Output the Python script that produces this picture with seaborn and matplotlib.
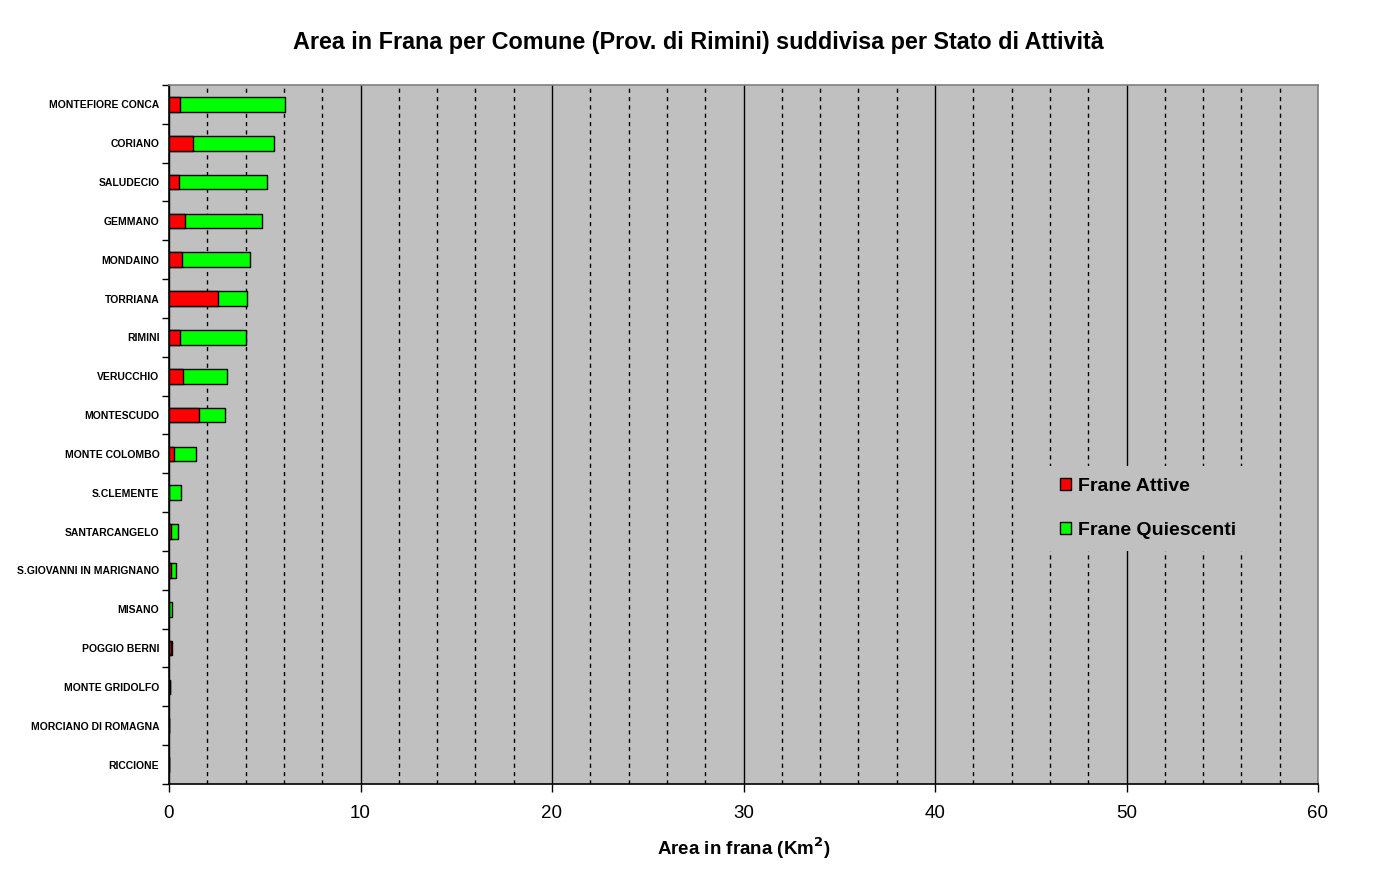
import matplotlib
matplotlib.use("Agg")
import matplotlib.pyplot as plt
import seaborn as sns
import pandas as pd
from matplotlib.patches import Patch

# Dati (Km2)
comuni = ["MONTEFIORE CONCA", "CORIANO", "SALUDECIO", "GEMMANO", "MONDAINO",
          "TORRIANA", "RIMINI", "VERUCCHIO", "MONTESCUDO", "MONTE COLOMBO",
          "S.CLEMENTE", "SANTARCANGELO", "S.GIOVANNI IN MARIGNANO", "MISANO",
          "POGGIO BERNI", "MONTE GRIDOLFO", "MORCIANO DI ROMAGNA", "RICCIONE"]
frane_attive = [0.56, 1.24, 0.52, 0.82, 0.66, 2.55, 0.56, 0.72, 1.55, 0.24,
                0.02, 0.12, 0.09, 0.01, 0.12, 0.05, 0.0, 0.0]
frane_quiescenti = [5.50, 4.24, 4.59, 4.03, 3.56, 1.52, 3.45, 2.30, 1.36, 1.16,
                    0.59, 0.33, 0.26, 0.13, 0.02, 0.02, 0.0, 0.0]

df = pd.DataFrame({"Comune": comuni, "Attive": frane_attive,
                   "Quiescenti": frane_quiescenti})
df["Totale"] = df["Attive"] + df["Quiescenti"]

sns.set_style("white", {"axes.facecolor": "#C0C0C0"})
plt.rcParams["font.family"] = ["Liberation Sans", "DejaVu Sans"]
plt.rcParams.update({"text.color": "black", "axes.labelcolor": "black",
                     "xtick.color": "black", "ytick.color": "black"})

fig = plt.figure(figsize=(13.96, 8.72), dpi=100)
ax = fig.add_axes([169 / 1396, 1 - 784 / 872, (1318 - 169) / 1396, (784 - 85) / 872])

# barre impilate: quiescenti (totale) sotto, attive sopra
sns.barplot(data=df, x="Totale", y="Comune", color="#00FF00", edgecolor="black",
            linewidth=1, width=0.38, saturation=1, ax=ax, zorder=3)
sns.barplot(data=df, x="Attive", y="Comune", color="#FF0000", edgecolor="black",
            linewidth=1, width=0.38, saturation=1, ax=ax, zorder=4)

ax.set_xlim(0, 60)
ax.set_ylim(len(comuni) - 0.5, -0.5)

# griglia: linee continue ogni 10, tratteggiate ogni 2
ax.set_xticks(range(0, 61, 10))
ax.set_xticks([v for v in range(2, 60, 2) if v % 10], minor=True)
ax.grid(False)
ax.grid(True, axis="x", which="major", color="black", linewidth=1, linestyle="-", zorder=1)
ax.grid(True, axis="x", which="minor", color="black", linewidth=1,
        linestyle=(0, (3, 3)), zorder=1)
ax.set_axisbelow(True)

ax.set_yticks(range(len(comuni)))
ax.set_yticklabels(comuni, fontsize=7.5, fontweight="bold")
ax.set_yticks([i + 0.5 for i in range(-1, len(comuni))], minor=True)
ax.tick_params(axis="y", which="major", length=0, pad=7)
ax.tick_params(axis="y", which="minor", length=5, width=1, direction="out", left=True)
ax.tick_params(axis="x", which="major", length=6, width=1, direction="out",
               bottom=True, labelsize=13.5, pad=9)
ax.tick_params(axis="x", which="minor", length=0)

for side in ["left", "bottom"]:
    ax.spines[side].set_color("black")
    ax.spines[side].set_linewidth(1.2)
for side in ["top", "right"]:
    ax.spines[side].set_visible(True)
    ax.spines[side].set_color("#808080")
    ax.spines[side].set_linewidth(1.2)

ax.set_ylabel("")
ax.set_xlabel("Area in frana (Km$^\\mathbf{2}$)", fontsize=13.5, fontweight="bold", labelpad=10)
fig.suptitle("Area in Frana per Comune (Prov. di Rimini) suddivisa per Stato di Attività",
             fontsize=16.8, fontweight="bold", y=1 - 42 / 872, va="center")

handles = [Patch(facecolor="#FF0000", edgecolor="black", label="Frane Attive"),
           Patch(facecolor="#00FF00", edgecolor="black", label="Frane Quiescenti")]
leg = fig.legend(handles=handles, loc="upper left",
                 bbox_to_anchor=(1048 / 1396, 1 - 466 / 872), frameon=True,
                 fancybox=False, facecolor="#C0C0C0", edgecolor="none", framealpha=1,
                 borderpad=0.6, borderaxespad=0,
                 prop={"size": 14, "weight": "bold"}, handlelength=0.6,
                 handleheight=0.6, handletextpad=0.35, labelspacing=1.4)

fig.savefig("out.png", dpi=100, facecolor="white")
